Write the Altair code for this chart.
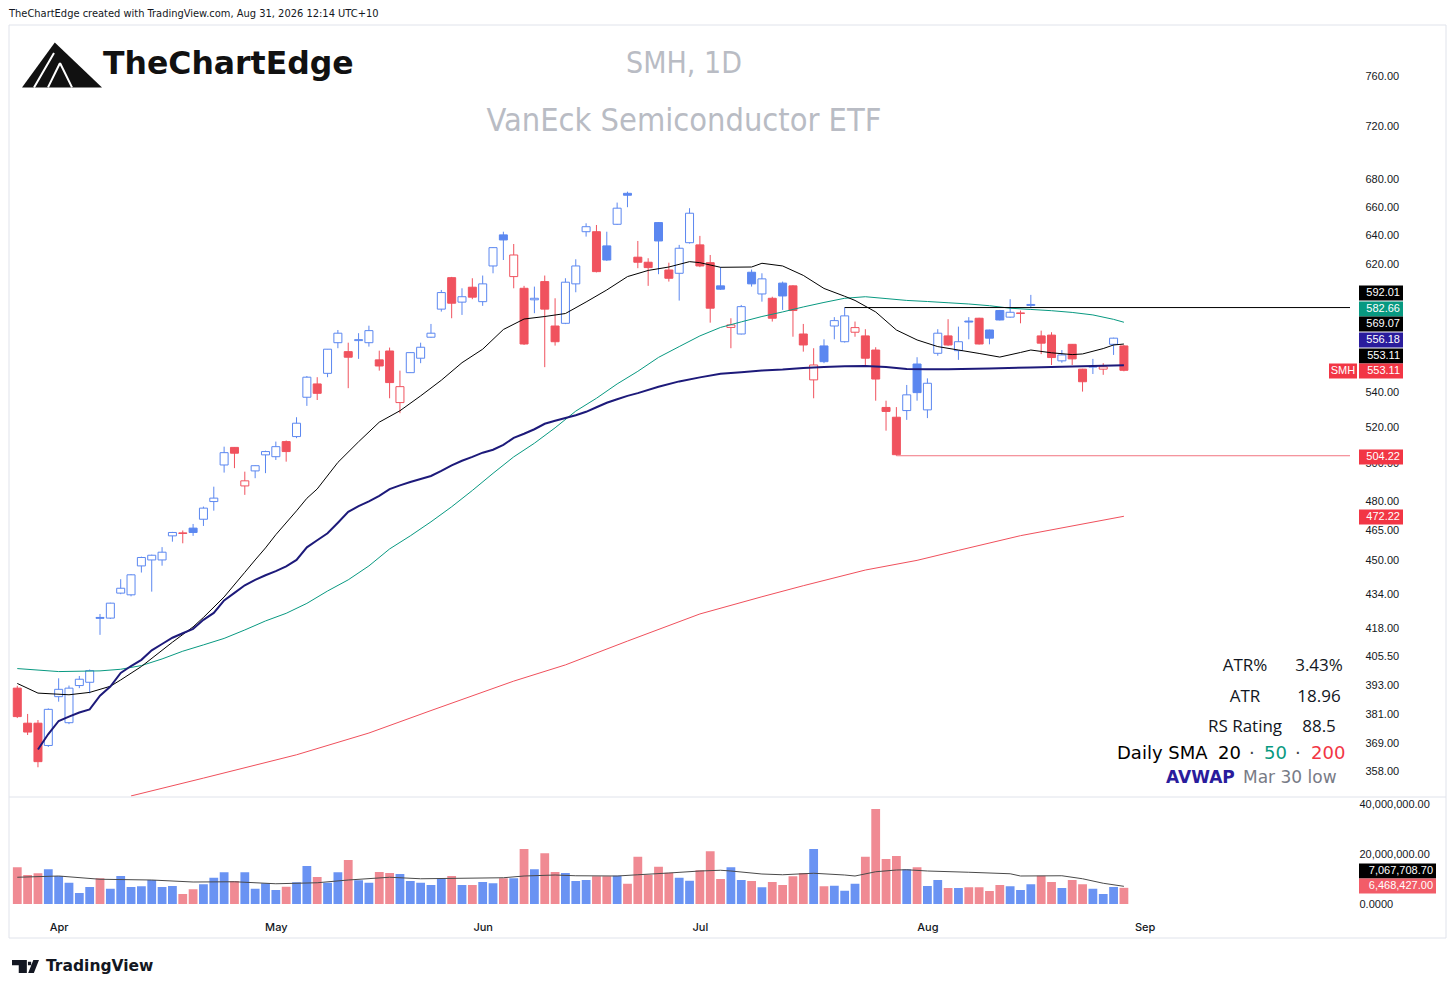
import altair as alt
import pandas as pd

# ---------------- data ----------------
opens = [392.0, 377.4, 377.4, 368.4, 388.4, 377.6, 393.1, 394.5, 423.2, 422.9,
         434.5, 433.7, 447.5, 450.4, 450.4, 462.3, 463.8, 466.2, 470.7, 479.8,
         499.2, 508.8, 488.0, 496.0, 504.7, 503.7, 512.0, 514.8, 537.2, 545.0,
         551.3, 569.9, 564.4, 571.2, 569.9, 559.4, 564.8, 534.1, 551.7, 560.4,
         573.3, 591.0, 611.5, 595.5, 605.2, 595.8, 619.3, 640.5, 612.2, 604.5,
         597.0, 608.9, 580.3, 582.0, 607.4, 642.7, 642.7, 632.9, 647.9, 670.0,
         625.2, 621.8, 649.1, 616.6, 614.4, 635.1, 633.6, 621.5, 606.1, 579.4,
         575.3, 615.1, 600.8, 598.0, 607.9, 606.1, 575.3, 547.4, 567.9, 580.3,
         570.5, 576.4, 574.1, 565.4, 531.3, 525.7, 529.5, 556.9, 529.9, 563.4,
         574.1, 565.0, 583.4, 585.2, 577.8, 590.1, 585.9, 588.2, 593.4, 574.1,
         574.6, 558.8, 568.9, 553.8, 555.0, 553.8, 568.9, 567.9]
highs = [393.0, 381.2, 378.7, 383.5, 396.2, 393.1, 397.2, 400.0, 424.8, 430.0,
         441.1, 443.5, 452.0, 453.0, 456.7, 464.3, 465.0, 468.3, 477.2, 487.6,
         509.2, 509.0, 495.6, 499.0, 507.0, 512.0, 512.6, 525.7, 549.7, 549.0,
         566.0, 577.8, 569.9, 575.8, 580.5, 565.0, 566.9, 552.9, 564.0, 569.9,
         581.6, 603.4, 612.0, 604.5, 611.1, 612.9, 632.0, 642.7, 634.2, 606.1,
         605.6, 612.9, 598.0, 611.1, 623.8, 648.6, 647.4, 642.7, 663.3, 671.2,
         636.3, 624.5, 649.5, 621.5, 633.6, 659.3, 639.8, 626.7, 618.5, 585.2,
         593.7, 616.9, 614.4, 599.0, 608.9, 606.5, 581.6, 566.5, 572.0, 585.9,
         592.01, 583.1, 578.3, 567.1, 535.2, 531.5, 544.4, 561.0, 548.3, 578.3,
         584.6, 579.9, 585.9, 585.5, 578.0, 590.5, 597.4, 590.1, 600.2, 577.4,
         576.4, 565.4, 569.0, 554.0, 560.0, 557.4, 573.0, 568.5]
lows = [379.5, 372.6, 359.8, 367.8, 386.3, 377.0, 392.0, 389.8, 415.3, 422.5,
        434.0, 433.0, 444.3, 435.2, 447.6, 459.4, 458.6, 462.3, 467.3, 475.1,
        495.1, 497.5, 483.3, 492.1, 494.8, 501.9, 501.0, 513.9, 532.2, 535.6,
        549.0, 566.5, 542.5, 560.0, 567.5, 552.9, 536.6, 528.0, 551.5, 557.4,
        573.0, 589.4, 585.2, 587.3, 597.4, 593.1, 614.4, 623.3, 604.5, 568.5,
        588.4, 555.0, 568.1, 581.5, 601.9, 639.3, 615.0, 622.7, 647.5, 660.0,
        617.8, 606.1, 613.8, 608.9, 596.5, 634.5, 618.5, 582.4, 603.5, 566.5,
        575.0, 605.6, 595.8, 583.1, 590.5, 573.6, 564.4, 536.6, 557.4, 572.0,
        570.0, 573.6, 556.3, 535.2, 518.1, 504.22, 524.2, 535.2, 525.2, 561.9,
        568.0, 559.4, 572.0, 568.8, 568.9, 583.8, 585.5, 582.0, 591.6, 562.9,
        556.3, 557.7, 556.3, 540.5, 550.9, 550.4, 562.4, 552.5]
closes = [380.1, 373.8, 362.0, 383.1, 391.5, 392.0, 395.8, 399.5, 422.8, 429.8,
          436.8, 443.2, 451.6, 452.7, 454.2, 464.0, 463.5, 464.0, 476.4, 481.6,
          505.9, 505.6, 490.7, 498.8, 506.5, 509.2, 506.5, 522.3, 549.0, 539.5,
          565.9, 575.8, 561.0, 571.8, 577.4, 555.7, 545.8, 543.4, 563.8, 567.1,
          575.8, 601.7, 594.8, 599.0, 598.7, 607.4, 631.7, 637.0, 626.7, 569.1,
          598.0, 591.0, 570.5, 608.5, 619.3, 646.2, 615.5, 623.3, 659.3, 668.6,
          621.8, 618.2, 636.3, 611.1, 631.3, 655.7, 619.3, 591.6, 603.9, 581.0,
          592.6, 607.4, 610.7, 585.2, 599.5, 590.1, 568.5, 556.3, 558.3, 583.7,
          586.7, 579.3, 560.4, 547.9, 529.0, 504.8, 538.6, 539.9, 545.4, 575.8,
          568.5, 570.5, 582.8, 569.1, 572.7, 584.1, 589.0, 588.6, 594.0, 569.6,
          560.8, 562.4, 560.0, 546.3, 555.6, 555.2, 572.7, 553.11]
volume_m = [14.7, 11.6, 12.3, 13.9, 11.2, 8.5, 4.4, 6.8, 10.3, 6.1,
            11.2, 6.8, 7.1, 9.6, 6.8, 7.2, 4.0, 5.9, 7.9, 10.5,
            12.7, 9.2, 12.7, 6.1, 8.3, 5.6, 6.9, 8.7, 15.2, 10.8,
            8.5, 12.7, 17.6, 9.5, 8.5, 12.8, 12.4, 12.0, 9.2, 8.5,
            7.6, 10.3, 11.2, 7.6, 7.6, 8.8, 8.3, 10.3, 10.3, 22.0,
            13.9, 20.3, 12.8, 12.4, 9.2, 9.6, 11.1, 11.1, 11.3, 8.1,
            18.9, 11.7, 14.9, 12.5, 10.5, 9.3, 13.5, 21.1, 10.0, 14.7,
            9.6, 9.2, 6.7, 8.8, 7.6, 11.1, 12.4, 22.0, 7.1, 7.3,
            5.3, 8.1, 18.9, 38.0, 18.0, 19.2, 13.9, 14.7, 7.2, 9.6,
            6.4, 6.4, 6.7, 6.7, 5.2, 7.6, 7.1, 5.6, 7.9, 11.3,
            8.8, 6.4, 9.6, 7.9, 6.1, 4.0, 6.8, 6.468427]

sma20_idx = [0, 2, 5, 7, 9, 10, 12, 15, 17, 18, 20, 22, 23, 24, 25, 27, 28, 29, 31, 33,
             35, 37, 39, 41, 43, 45, 47, 49, 51, 53, 55, 57, 59, 61, 63, 65, 66, 68, 71, 72,
             74, 76, 78, 80, 81, 83, 85, 87, 89, 91, 93, 95, 97, 98, 100, 102, 103, 105, 106, 107]
sma20_val = [394.0, 389.9, 389.2, 390.2, 392.8, 395.5, 401.3, 412.0, 418.9, 423.2,
             432.7, 444.4, 450.4, 456.3, 462.9, 475.0, 481.5, 486.4, 500.6, 511.9,
             522.9, 529.4, 538.0, 547.2, 557.7, 565.9, 578.1, 584.7, 586.3, 588.2,
             595.6, 603.4, 612.2, 616.3, 618.6, 622.2, 621.5, 618.4, 618.6, 621.1,
             619.3, 613.0, 604.4, 599.3, 596.6, 589.2, 577.8, 571.6, 567.5, 565.4,
             563.3, 561.1, 563.9, 565.4, 563.7, 562.6, 563.0, 566.3, 568.5, 569.07]

sma50_idx = [0, 4, 8, 10, 12, 14, 16, 18, 20, 22, 24, 26, 28, 30, 32, 34, 36, 38, 40, 42,
             44, 46, 48, 50, 52, 54, 56, 58, 60, 62, 64, 66, 68, 70, 72, 74, 76, 78, 80, 82,
             84, 86, 88, 90, 92, 94, 96, 98, 100, 102, 104, 106, 107]
sma50_val = [400.4, 399.1, 399.4, 400.1, 401.7, 404.6, 408.0, 410.8, 413.7, 417.5,
             421.6, 425.1, 429.7, 435.5, 440.8, 447.5, 455.8, 462.3, 469.4, 477.1,
             485.6, 494.7, 503.6, 511.1, 519.7, 529.2, 536.6, 545.0, 552.5, 560.9,
             567.5, 574.1, 579.4, 582.9, 586.3, 589.2, 592.4, 595.3, 598.0, 599.0,
             597.8, 596.6, 595.9, 595.1, 594.3, 593.2, 591.6, 590.8, 590.0, 588.9,
             587.3, 584.5, 582.66]

sma200_idx = [11, 18, 27, 34, 40, 48, 53, 59, 66, 72, 76, 82, 87, 91, 97, 107]
sma200_val = [348.8, 355.6, 364.7, 373.4, 382.6, 395.0, 402.0, 412.5, 424.8, 432.8,
              438.0, 445.5, 450.2, 455.1, 462.4, 472.22]

avwap_idx = [2, 3, 4, 5, 6, 7, 8, 9, 10, 11, 12, 13, 14, 15, 16, 17, 18, 19, 20, 21,
             22, 23, 24, 25, 26, 27, 28, 29, 30, 31, 32, 33, 34, 35, 36, 37, 38, 39, 40, 41,
             42, 43, 44, 45, 46, 47, 48, 49, 50, 51, 52, 53, 54, 55, 56, 57, 58, 59, 60, 62,
             64, 66, 68, 70, 72, 74, 76, 78, 80, 82, 84, 86, 88, 90, 94, 98, 102, 107]
avwap_val = [366.8, 373.0, 378.3, 380.1, 381.8, 383.1, 388.8, 392.7, 398.5, 401.5,
             404.2, 408.4, 411.2, 414.0, 416.0, 418.0, 422.1, 425.3, 431.1, 434.6,
             438.2, 440.8, 443.0, 445.0, 447.3, 450.4, 456.6, 460.1, 463.6, 468.9,
             474.5, 477.4, 479.9, 482.8, 486.3, 488.3, 490.1, 491.7, 493.3, 496.0,
             499.0, 501.5, 503.6, 505.9, 507.5, 510.2, 514.1, 516.4, 518.9, 522.0,
             523.7, 525.3, 526.8, 528.8, 531.4, 534.0, 536.0, 538.0, 539.6, 543.3,
             546.5, 548.9, 551.0, 551.9, 553.0, 553.6, 554.5, 555.1, 555.5, 555.7,
             555.1, 553.9, 553.7, 553.8, 554.2, 554.8, 555.4, 556.18]

volma_idx = [0, 4, 8, 13, 17, 21, 25, 29, 32, 36, 39, 43, 47, 49, 52, 54, 58, 60, 63, 66,
             68, 69, 72, 74, 77, 80, 81, 83, 85, 86, 88, 92, 96, 97, 101, 103, 105, 107]
volma_val = [10.7, 11.2, 9.9, 9.6, 8.8, 8.9, 8.1, 8.5, 9.6, 10.7, 10.1, 10.3, 10.5, 11.2,
             11.6, 11.3, 11.2, 11.7, 12.4, 13.2, 13.5, 13.2, 12.0, 11.7, 12.3, 11.6, 11.2,
             12.9, 13.6, 13.7, 13.2, 12.7, 12.1, 11.2, 11.3, 10.1, 8.3, 7.07]

level_high = 592.01
level_high_start = 80
level_low = 504.22
level_low_start = 85

month_labels = ["Apr", "May", "Jun", "Jul", "Aug", "Sep"]
month_idx = [4, 25, 45, 66, 88, 109]
price_ticks = [760, 720, 680, 660, 640, 620, 540, 520, 500, 480, 465, 450, 434, 418,
               405.5, 393, 381, 369, 358]
volume_ticks_m = [0, 20, 40]

# ---------------- styling ----------------
BLUE = "#5b87f0"
RED = "#f0525e"
VBLUE = "#6a93f3"
VRED = "#f08a93"
TEAL = "#089981"
NAVY_LINE = "#1d1a7a"
NAVY_TAG = "#2a1c9c"
TAGRED = "#f23645"
TXT = "#131722"
GRID = "#e0e3eb"
AXFONT = "Liberation Sans"
COND = "DejaVu Sans Condensed, Liberation Sans Narrow, DejaVu Sans"

W, H = 1345, 887          # plot area: page x 10..1355, y 25..912
OX, OY = 10, 25

rows = []
for i in range(len(closes)):
    prev = closes[i - 1] if i > 0 else opens[i]
    col = BLUE if closes[i] >= prev else RED
    hollow = closes[i] >= opens[i]
    rows.append(dict(i=i, o=opens[i], h=highs[i], l=lows[i], c=closes[i],
                     col=col, fillc="#ffffff" if hollow else col,
                     vcol=VBLUE if hollow else VRED, v=volume_m[i]))
df = pd.DataFrame(rows)

xscale = alt.Scale(domain=[-0.22, 128.86], nice=False, zero=False)
lab_expr = " : ".join(f"datum.value == {v} ? '{m}'" for v, m in zip(month_idx, month_labels)) + " : ''"
x_axis = alt.Axis(values=month_idx, labelExpr=lab_expr, title=None, grid=False, ticks=False,
                  domain=False, labelPadding=9, labelFontSize=11,
                  labelColor=TXT, labelFont="Inter", labelFontWeight=500, orient="bottom")


def X(field="i"):
    return alt.X(f"{field}:Q", scale=xscale, axis=x_axis)


pscale = alt.Scale(type="log", domain=[348.4, 804.0], range=[772, 0], nice=False, zero=False)
p_axis = alt.Axis(orient="right", values=price_ticks, format=".2f", grid=False, ticks=False,
                  domain=False, labelPadding=10, labelAlign="left",
                  labelFontSize=11, labelColor=TXT, labelFont=AXFONT, title=None,
                  labelOverlap=False, labelFlush=False)


def PY(field):
    return alt.Y(f"{field}:Q", scale=pscale, axis=p_axis)


vscale = alt.Scale(domain=[0, 40], range=[879, 779], nice=False, zero=False)
v_axis = alt.Axis(orient="right", values=volume_ticks_m, grid=False, ticks=False, domain=False,
                  labelPadding=4, labelAlign="left", labelFontSize=11,
                  labelColor=TXT, labelFont=AXFONT, title=None, labelOverlap=False,
                  labelFlush=False,
                  labelExpr="datum.value == 0 ? '0.0000' : format(datum.value * 1000000, ',.2f')")


def VY(field):
    return alt.Y(f"{field}:Q", scale=vscale, axis=v_axis)


base = alt.Chart(df)
wicks = base.mark_rule(strokeWidth=1, clip=True).encode(
    x=X(), y=PY("l"), y2=alt.Y2("h:Q"), color=alt.Color("col:N", scale=None))
bodies = base.mark_bar(size=8, strokeWidth=1, clip=True).encode(
    x=X(), y=PY("o"), y2=alt.Y2("c:Q"),
    fill=alt.Fill("fillc:N", scale=None), stroke=alt.Stroke("col:N", scale=None))


def line(idx, val, color, width):
    d = pd.DataFrame({"i": idx, "p": val})
    return alt.Chart(d).mark_line(color=color, strokeWidth=width).encode(x=X(), y=PY("p"))


levels = pd.DataFrame({"i": [level_high_start, level_low_start], "i2": [128.86, 128.86],
                       "p": [level_high, level_low], "col": ["#000000", "#f27580"]})
level_rules = alt.Chart(levels).mark_rule(strokeWidth=1).encode(
    x=X(), x2=alt.X2("i2:Q"), y=PY("p"), color=alt.Color("col:N", scale=None))

price = alt.layer(
    wicks, bodies,
    line(sma200_idx, sma200_val, "#f0505c", 1),
    line(sma50_idx, sma50_val, TEAL, 1),
    line(sma20_idx, sma20_val, "#000000", 1),
    line(avwap_idx, avwap_val, NAVY_LINE, 2),
    level_rules,
)

vbars = base.mark_bar(size=8.8, clip=True).encode(
    x=X(), y=VY("v"), color=alt.Color("vcol:N", scale=None))
vma = alt.Chart(pd.DataFrame({"i": volma_idx, "vm": volma_val})).mark_line(
    color="#4a4a4a", strokeWidth=1).encode(x=X(), y=VY("vm"))
vol = alt.layer(vbars, vma)

# ---------------- annotations (page coordinates) ----------------
ONE = pd.DataFrame({"k": [0]})


def txt(s, x, y, size=11, color=TXT, font=AXFONT, weight="normal", align="left"):
    return alt.Chart(ONE).mark_text(text=s, fontSize=size, color=color, font=font,
                                    fontWeight=weight, align=align, baseline="middle").encode(
        x=alt.value(x - OX), y=alt.value(y - OY))


def box(x1, x2, yc, color, h=15):
    return alt.Chart(ONE).mark_rect(color=color).encode(
        x=alt.value(x1 - OX), x2=alt.value(x2 - OX),
        y=alt.value(yc - h / 2 - OY), y2=alt.value(yc + h / 2 - OY))


def hline(x1, x2, y, color=GRID):
    return alt.Chart(ONE).mark_rule(color=color, strokeWidth=1).encode(
        x=alt.value(x1 - OX), x2=alt.value(x2 - OX), y=alt.value(y - OY))


def vline(x, y1, y2, color=GRID):
    return alt.Chart(ONE).mark_rule(color=color, strokeWidth=1).encode(
        x=alt.value(x - OX), y=alt.value(y1 - OY), y2=alt.value(y2 - OY))


def symbol(path, x, y, size, color, filled=True, width=1):
    return alt.Chart(ONE).mark_point(shape=path, filled=filled, color=color, opacity=1,
                                     strokeWidth=width, size=size).encode(
        x=alt.value(x - OX), y=alt.value(y - OY))


ann = []
# frame
ann += [hline(9, 1446, 25), hline(9, 1446, 938), hline(9, 1446, 797),
        vline(9, 25, 938), vline(1446, 25, 938)]
# header / titles
ann.append(txt("TheChartEdge created with TradingView.com, Aug 31, 2026 12:14 UTC+10", 9, 14,
               size=11, font=COND))
ann.append(txt("SMH, 1D", 684, 64, size=30, color="#b9bcc4", font=COND, align="center"))
ann.append(txt("VanEck Semiconductor ETF", 684, 121, size=32.3, color="#b9bcc4", font=COND,
               align="center"))
# logo
tri = "M -0.18 -0.56 L 1 0.56 L -1 0.56 Z"
inner = "M -0.2 -0.3 L -0.7 0.56 M -0.05 -0.05 L -0.35 0.56 M -0.05 -0.05 L 0.25 0.56"
ann.append(symbol(tri, 62, 65, 6400, "#111111"))
ann.append(symbol(inner, 62, 65, 6400, "#ffffff", filled=False, width=2))
ann.append(txt("TheChartEdge", 103, 65, size=31.5, color="#111111", font="DejaVu Sans",
               weight="bold"))
# footer (TradingView mark + name)
tv = ("M -1 -0.48 L 0.1 -0.48 L 0.1 0.48 L -0.5 0.48 L -0.5 -0.1 L -1 -0.1 Z "
      "M 0.18 -0.36 L 0.42 -0.36 L 0.42 -0.1 L 0.18 -0.1 Z "
      "M 0.58 -0.48 L 1 -0.48 L 0.62 0.48 L 0.2 0.48 Z")
ann.append(symbol(tv, 25.5, 966.5, 729, "#131722"))
ann.append(txt("TradingView", 46, 966, size=15.5, color="#131722", font="DejaVu Sans",
               weight="bold"))
# legend (bottom right)
ann += [
    txt("ATR%", 1245, 666, size=17, font="Open Sans", align="center"),
    txt("3.43%", 1319, 666, size=17, font="Open Sans", align="center"),
    txt("ATR", 1245, 697, size=17, font="Open Sans", align="center"),
    txt("18.96", 1319, 697, size=17, font="Open Sans", align="center"),
    txt("RS Rating", 1245, 727, size=17, font="Open Sans", align="center"),
    txt("88.5", 1319, 727, size=17, font="Open Sans", align="center"),
    txt("Daily SMA", 1117, 754, size=18, color="#000000", font="DejaVu Sans"),
    txt("20", 1218, 754, size=18, color="#000000", font="DejaVu Sans"),
    txt("·", 1249, 754, size=18, color="#444444", font="DejaVu Sans"),
    txt("50", 1264, 754, size=18, color=TEAL, font="DejaVu Sans"),
    txt("·", 1295, 754, size=18, color="#444444", font="DejaVu Sans"),
    txt("200", 1311, 754, size=18, color=TAGRED, font="DejaVu Sans"),
    txt("AVWAP", 1166, 778, size=17, color=NAVY_TAG, font="DejaVu Sans", weight="bold"),
    txt("Mar 30 low", 1243, 778, size=17, color="#787b86", font="DejaVu Sans"),
]
# price tags on the right scale
tags = [("592.01", 293, "#000000"), ("582.66", 309, TEAL), ("569.07", 324, "#000000"),
        ("556.18", 340, NAVY_TAG), ("553.11", 356, "#000000"), ("553.11", 371, TAGRED),
        ("504.22", 457, TAGRED), ("472.22", 517, TAGRED)]
for s, yc, colr in tags:
    ann.append(box(1359, 1403, yc, colr))
    ann.append(txt(s, 1400, yc, size=11, color="#ffffff", align="right"))
ann.append(box(1329, 1357, 371, TAGRED))
ann.append(txt("SMH", 1343, 371, size=11, color="#ffffff", align="center"))
# volume tags
ann.append(box(1359, 1436, 871, "#000000"))
ann.append(txt("7,067,708.70", 1433, 871, size=11, color="#ffffff", align="right"))
ann.append(box(1359, 1436, 886, "#f25c68"))
ann.append(txt("6,468,427.00", 1433, 886, size=11, color="#ffffff", align="right"))

chart = alt.layer(price, vol, *ann).resolve_scale(y="independent").properties(
    width=W, height=H,
    background="white",
    autosize=alt.AutoSizeParams(type="none"),
    padding={"left": 2, "top": 17, "right": 93, "bottom": 68},
).configure_view(
    stroke="transparent", strokeWidth=0
)

chart.save("out.html", embed_options={"renderer": "svg", "actions": False})
